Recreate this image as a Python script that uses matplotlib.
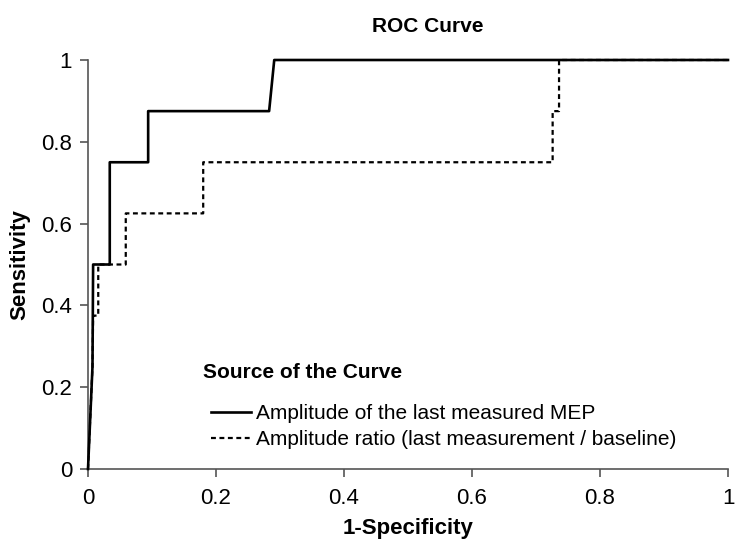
import matplotlib
matplotlib.use("Agg")
import matplotlib.pyplot as plt

plt.rcParams['font.family'] = ['Liberation Sans', 'DejaVu Sans']

# ROC points (1-specificity, sensitivity)
fpr_mep = [0, 0.007, 0.008, 0.034, 0.034, 0.094, 0.094, 0.283, 0.291, 1.0]
tpr_mep = [0, 0.25, 0.5, 0.5, 0.75, 0.75, 0.875, 0.875, 1.0, 1.0]

fpr_ratio = [0, 0.007, 0.008, 0.016, 0.016, 0.059, 0.059, 0.18, 0.18, 0.726, 0.726, 0.736, 0.736, 1.0]
tpr_ratio = [0, 0.25, 0.375, 0.375, 0.5, 0.5, 0.625, 0.625, 0.75, 0.75, 0.875, 0.875, 1.0, 1.0]

labels = ["Amplitude of the last measured MEP",
          "Amplitude ratio (last measurement / baseline)"]
ticks = [0, 0.2, 0.4, 0.6, 0.8, 1]
tick_labels = ["0", "0.2", "0.4", "0.6", "0.8", "1"]

fig = plt.figure(figsize=(7.5, 5.5), dpi=100)
ax = fig.add_axes([88/750, 81/550, 640/750, 409/550])

ax.plot(fpr_ratio, tpr_ratio, color='black', lw=1.6, ls=(0, (2.2, 1.6)), label=labels[1],
        zorder=2, clip_on=False)
ax.plot(fpr_mep, tpr_mep, color='black', lw=1.9, label=labels[0], zorder=3, clip_on=False)

ax.set_xlim(0, 1)
ax.set_ylim(0, 1)
ax.set_xticks(ticks)
ax.set_xticklabels(tick_labels)
ax.set_yticks(ticks)
ax.set_yticklabels(tick_labels)
for s in ['top', 'right']:
    ax.spines[s].set_visible(False)
for s in ['left', 'bottom']:
    ax.spines[s].set_color('#555555')
    ax.spines[s].set_linewidth(1.2)
ax.tick_params(direction='out', length=6, width=1.2, color='#555555', labelsize=16)
ax.tick_params(axis='x', pad=7.7)
ax.tick_params(axis='y', pad=5.5)

ax.set_xlabel("1-Specificity", fontsize=16, fontweight='bold', labelpad=6.5)
ax.set_ylabel("Sensitivity", fontsize=16, fontweight='bold', labelpad=8)
fig.text(428/750, 1 - 27/550, "ROC Curve", ha='center', va='center', fontsize=15, fontweight='bold')

# legend title placed on its own, entries below it
fig.text(203/750, 1 - 372/550, "Source of the Curve", ha='left', va='center', fontsize=15, fontweight='bold')
handles, labs = ax.get_legend_handles_labels()
leg = ax.legend(handles[::-1], labs[::-1], loc='upper left',
                bbox_to_anchor=(211/750, 1 - 404/550), bbox_transform=fig.transFigure,
                frameon=False, fontsize=15, handlelength=1.92, handletextpad=0.24,
                labelspacing=0.34, borderpad=0, borderaxespad=0)

fig.savefig("out.png", dpi=100)
